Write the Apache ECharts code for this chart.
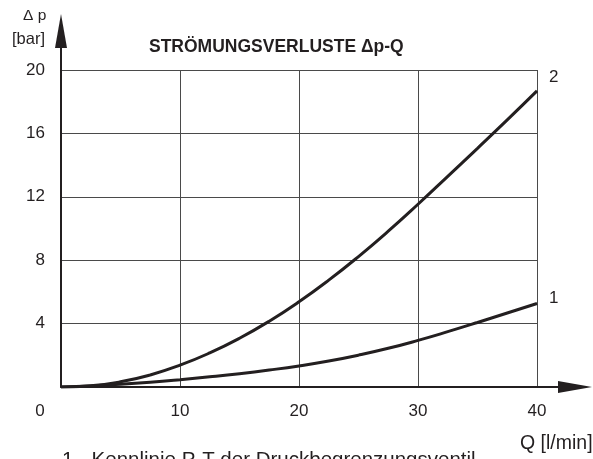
<!DOCTYPE html>
<html>
<head>
<meta charset="utf-8">
<script src="https://cdn.jsdelivr.net/npm/echarts@6/dist/echarts.min.js"></script>
<style>html,body{margin:0;padding:0;background:#fff;}#c{width:593px;height:459px;}</style>
</head>
<body>
<div id="c"></div>
<script>
const flowQ = [0, 2.5, 5, 7.5, 10, 12.5, 15, 17.5, 20, 22.5, 25, 27.5, 30, 32.5, 35, 37.5, 40];
const curve1 = [0, 0.07, 0.17, 0.30, 0.46, 0.64, 0.84, 1.07, 1.33, 1.64, 2.01, 2.44, 2.94, 3.49, 4.07, 4.67, 5.27];
const curve2 = [0, 0.075, 0.325, 0.76, 1.375, 2.15, 3.075, 4.15, 5.375, 6.74, 8.23, 9.83, 11.53, 13.29, 15.06, 16.85, 18.68];
const curveNames = ['1', '2'];
const xTicks = [0, 10, 20, 30, 40];
const yTicks = [0, 4, 8, 12, 16, 20];
const chartTitle = 'STRÖMUNGSVERLUSTE \u0394p-Q';
const yName = ['\u0394 p', '[bar]'];
const xName = 'Q [l/min]';
const footnote = '1 - Kennlinie P-T der Druckbegrenzungsventil';

const ink = '#231f20';
const font = 'Liberation Sans, Arial, sans-serif';
const chart = echarts.init(document.getElementById('c'), null, {renderer: 'canvas'});

function pairs(ys) { return flowQ.map((q, i) => [q, ys[i]]); }

chart.setOption({
  animation: false,
  backgroundColor: '#fff',
  textStyle: {fontFamily: font},
  title: [
    {text: chartTitle, left: 144, top: 33, textStyle: {fontSize: 17.5, fontWeight: 'bold', color: ink, fontFamily: font}},
    {text: yName[0], left: 18, top: 3, textStyle: {fontSize: 15.5, fontWeight: 'normal', color: ink, fontFamily: font}},
    {text: yName[1], left: 7, top: 26, textStyle: {fontSize: 16.5, fontWeight: 'normal', color: ink, fontFamily: font}},
    {text: xName, left: 515, top: 429, textStyle: {fontSize: 19.5, fontWeight: 'normal', color: ink, fontFamily: font}},
    {text: footnote, left: 57, top: 445, textStyle: {fontSize: 20.5, fontWeight: 'normal', color: ink, fontFamily: font}}
  ],
  grid: [
    {left: 61, right: 56, top: 70, bottom: 72},
    {left: 61, right: 18, top: 31, bottom: 72}
  ],
  xAxis: [
    {
      type: 'value', gridIndex: 0, min: xTicks[0], max: xTicks[xTicks.length - 1], interval: 10,
      axisLine: {show: false}, axisTick: {show: false},
      axisLabel: {
        margin: 16, fontSize: 17, color: ink, fontFamily: font,
        formatter: v => (v === 0 ? '{z|0}' : String(v)),
        rich: {z: {fontSize: 17, color: ink, fontFamily: font, padding: [0, 42, 0, 0]}}
      },
      splitLine: {show: true, lineStyle: {color: '#4a4a4a', width: 1}}
    },
    {
      type: 'value', gridIndex: 1, min: 0, max: 1,
      axisLine: {show: true, symbol: ['none', 'triangle'], symbolSize: [12, 34], lineStyle: {color: ink, width: 2}},
      axisTick: {show: false}, axisLabel: {show: false}, splitLine: {show: false}
    }
  ],
  yAxis: [
    {
      type: 'value', gridIndex: 0, min: yTicks[0], max: yTicks[yTicks.length - 1], interval: 4,
      axisLine: {show: false}, axisTick: {show: false},
      axisLabel: {margin: 16, fontSize: 17, color: ink, fontFamily: font, formatter: v => (v === 0 ? '' : String(v))},
      splitLine: {show: true, lineStyle: {color: '#4a4a4a', width: 1}}
    },
    {
      type: 'value', gridIndex: 1, min: 0, max: 1,
      axisLine: {show: true, symbol: ['none', 'triangle'], symbolSize: [12, 34], lineStyle: {color: ink, width: 2}},
      axisTick: {show: false}, axisLabel: {show: false}, splitLine: {show: false}
    }
  ],
  series: [
    {
      name: curveNames[0], type: 'line', xAxisIndex: 0, yAxisIndex: 0, smooth: true, showSymbol: false,
      data: pairs(curve1), lineStyle: {color: ink, width: 3}, z: 5,
      endLabel: {show: true, formatter: curveNames[0], fontSize: 17, color: ink, fontFamily: font, offset: [4, -5]}
    },
    {
      name: curveNames[1], type: 'line', xAxisIndex: 0, yAxisIndex: 0, smooth: true, showSymbol: false,
      data: pairs(curve2), lineStyle: {color: ink, width: 3}, z: 5,
      endLabel: {show: true, formatter: curveNames[1], fontSize: 17, color: ink, fontFamily: font, offset: [4, -14]}
    }
  ]
});
</script>
</body>
</html>
